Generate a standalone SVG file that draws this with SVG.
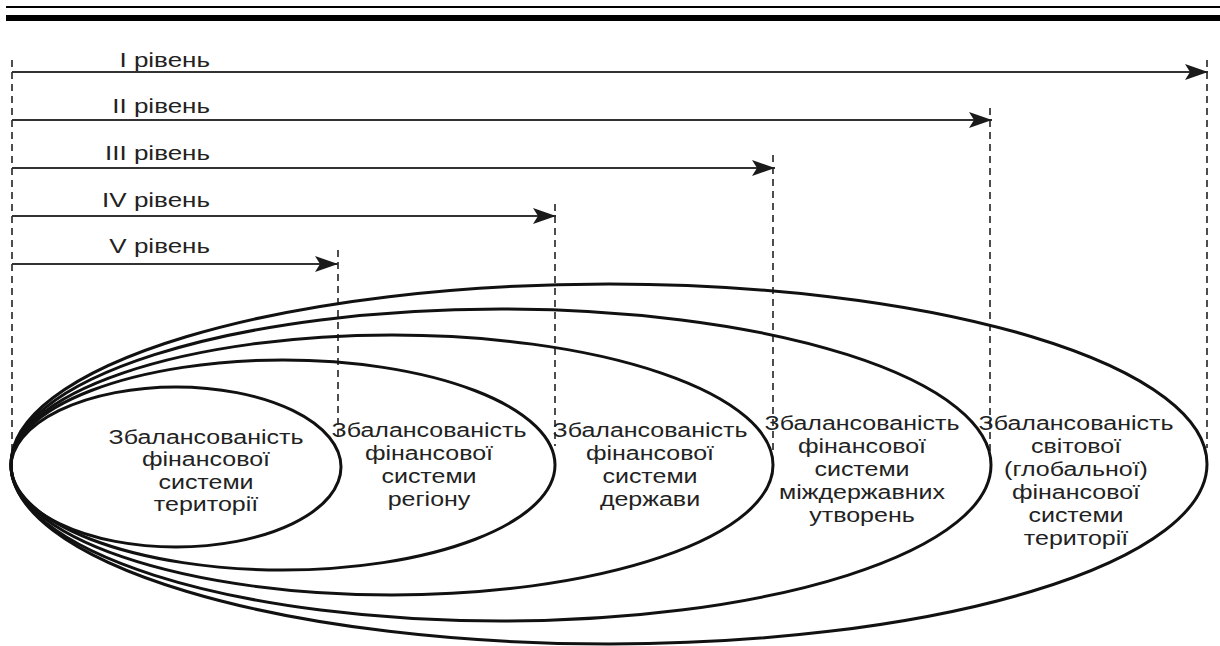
<svg xmlns="http://www.w3.org/2000/svg" width="1220" height="646" viewBox="0 0 1220 646">
<style>
.rule{stroke:#000;}
.ell{fill:none;stroke:#111;stroke-width:3;}
.arr{stroke:#333;stroke-width:1.8;fill:none;}
.dash{stroke:#222;stroke-width:1.6;stroke-dasharray:7 5;fill:none;}
.lbl{font-family:"Liberation Sans",Arial,sans-serif;font-size:20px;fill:#222;text-anchor:end;}
.txt{font-family:"Liberation Sans",Arial,sans-serif;font-size:20px;fill:#222;text-anchor:middle;}
</style>
<defs>
<marker id="ah" viewBox="0 0 24 18" refX="23" refY="9" markerWidth="24" markerHeight="18" markerUnits="userSpaceOnUse" orient="auto">
<path d="M0,1 L23,9 L0,17 L5,9 Z" fill="#1a1a1a"/>
</marker>
</defs>
<rect width="1220" height="646" fill="#fff"/>
<g id="header">
<line class="rule" x1="6" y1="7" x2="1220" y2="7" stroke-width="2"/>
<line class="rule" x1="6" y1="18" x2="1220" y2="18" stroke-width="6"/>
</g>
<g id="connectors">
<line class="dash" x1="12" y1="60" x2="12" y2="452"/>
<line class="dash" x1="338" y1="250" x2="338" y2="440"/>
<line class="dash" x1="555" y1="204" x2="555" y2="446"/>
<line class="dash" x1="773" y1="155" x2="773" y2="450"/>
<line class="dash" x1="990" y1="108" x2="990" y2="454"/>
<line class="dash" x1="1207" y1="60" x2="1207" y2="448"/>
<line class="arr" x1="12" y1="72" x2="1208" y2="72" marker-end="url(#ah)"/>
<line class="arr" x1="12" y1="120" x2="992" y2="120" marker-end="url(#ah)"/>
<line class="arr" x1="12" y1="168" x2="775" y2="168" marker-end="url(#ah)"/>
<line class="arr" x1="12" y1="216" x2="556" y2="216" marker-end="url(#ah)"/>
<line class="arr" x1="12" y1="264" x2="338" y2="264" marker-end="url(#ah)"/>
</g>
<g id="labels">
<text class="lbl" transform="translate(210 67) scale(1.3 1)" x="0" y="0">I рівень</text>
<text class="lbl" transform="translate(210 113) scale(1.3 1)" x="0" y="0">II рівень</text>
<text class="lbl" transform="translate(210 160) scale(1.3 1)" x="0" y="0">III рівень</text>
<text class="lbl" transform="translate(210 207) scale(1.3 1)" x="0" y="0">IV рівень</text>
<text class="lbl" transform="translate(210 253) scale(1.3 1)" x="0" y="0">V рівень</text>
</g>
<g id="node-global">
<ellipse class="ell" cx="609" cy="464" rx="598" ry="180"/>
<text class="txt" transform="translate(1076 0) scale(1.25 1)" y="430"><tspan x="0">Збалансованість</tspan><tspan x="0" dy="23">світової</tspan><tspan x="0" dy="23">(глобальної)</tspan><tspan x="0" dy="23">фінансової</tspan><tspan x="0" dy="23">системи</tspan><tspan x="0" dy="23">території</tspan></text>
</g>
<g id="node-interstate">
<ellipse class="ell" cx="501" cy="465" rx="490" ry="156"/>
<text class="txt" transform="translate(862 0) scale(1.25 1)" y="430"><tspan x="0">Збалансованість</tspan><tspan x="0" dy="23">фінансової</tspan><tspan x="0" dy="23">системи</tspan><tspan x="0" dy="23">міждержавних</tspan><tspan x="0" dy="23">утворень</tspan></text>
</g>
<g id="node-state">
<ellipse class="ell" cx="392" cy="465" rx="381" ry="130"/>
<text class="txt" transform="translate(650 0) scale(1.25 1)" y="437"><tspan x="0">Збалансованість</tspan><tspan x="0" dy="23">фінансової</tspan><tspan x="0" dy="23">системи</tspan><tspan x="0" dy="23">держави</tspan></text>
</g>
<g id="node-region">
<ellipse class="ell" cx="283" cy="465" rx="272" ry="105"/>
<text class="txt" transform="translate(429 0) scale(1.25 1)" y="437"><tspan x="0">Збалансованість</tspan><tspan x="0" dy="23">фінансової</tspan><tspan x="0" dy="23">системи</tspan><tspan x="0" dy="23">регіону</tspan></text>
</g>
<g id="node-territory">
<ellipse class="ell" cx="176" cy="467" rx="165" ry="80"/>
<text class="txt" transform="translate(206 0) scale(1.25 1)" y="444"><tspan x="0">Збалансованість</tspan><tspan x="0" dy="22.5">фінансової</tspan><tspan x="0" dy="22.5">системи</tspan><tspan x="0" dy="22.5">території</tspan></text>
</g>
</svg>
